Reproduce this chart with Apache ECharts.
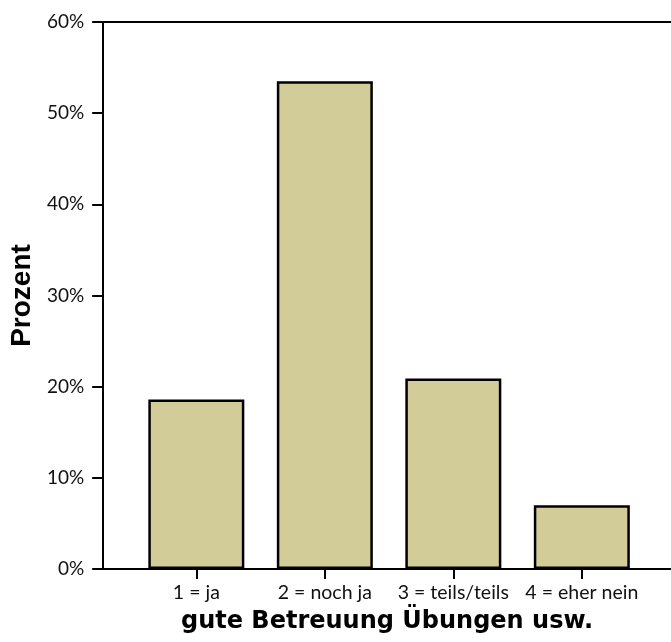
<!DOCTYPE html>
<html>
<head>
<meta charset="utf-8">
<script src="https://cdn.jsdelivr.net/npm/echarts@6/dist/echarts.min.js"></script>
<style>html,body{margin:0;padding:0;background:#fff}#c{width:671px;height:642px}</style>
</head>
<body>
<div id="c"></div>
<script>
var categories = ['1 = ja', '2 = noch ja', '3 = teils/teils', '4 = eher nein'];
var positions = [1, 2, 3, 4];
var values = [18.6, 53.5, 20.9, 7.0];
var yTicks = [0, 10, 20, 30, 40, 50, 60];
var xTitle = 'gute Betreuung Übungen usw.';
var yTitle = 'Prozent';

var chart = echarts.init(document.getElementById('c'), null, {renderer: 'canvas'});
var data = positions.map(function (p, i) { return [p, values[i]]; });
chart.setOption({
  animation: false,
  grid: {left: 101, right: 0, top: 22, bottom: 73},
  xAxis: [{
    type: 'value', min: 0.275, max: 4.694,
    axisLine: {show: true, lineStyle: {color: '#000', width: 2}},
    axisTick: {show: true, customValues: positions, length: 10, lineStyle: {color: '#000', width: 2}},
    axisLabel: {customValues: positions, margin: 14, fontFamily: 'Lato', fontSize: 19.5, color: '#111',
      formatter: function (v) { return categories[Math.round(v) - 1]; }},
    splitLine: {show: false},
    name: xTitle, nameLocation: 'middle', nameGap: 41,
    nameTextStyle: {fontFamily: 'DejaVu Sans', fontSize: 24, fontWeight: 'bold', color: '#000'}
  }, {
    type: 'value', position: 'top', min: 0.275, max: 4.694,
    axisLine: {show: true, lineStyle: {color: '#000', width: 2}},
    axisTick: {show: false}, axisLabel: {show: false}, splitLine: {show: false}
  }],
  yAxis: {
    type: 'value', min: yTicks[0], max: yTicks[yTicks.length - 1], interval: 10,
    axisLine: {show: true, lineStyle: {color: '#000', width: 2}},
    axisTick: {show: true, length: 11, lineStyle: {color: '#000', width: 2}},
    axisLabel: {margin: 19, fontFamily: 'Lato', fontSize: 19, color: '#111',
      formatter: function (v) { return v + '%'; }},
    splitLine: {show: false},
    name: yTitle, nameLocation: 'middle', nameGap: 66,
    nameTextStyle: {fontFamily: 'Liberation Sans', fontSize: 28, fontWeight: 'bold', color: '#000'}
  },
  series: [{
    type: 'bar', xAxisIndex: 0, data: data, barWidth: 96,
    itemStyle: {color: '#d2cd98', borderColor: '#000', borderWidth: 2.5}
  }]
});
</script>
</body>
</html>
